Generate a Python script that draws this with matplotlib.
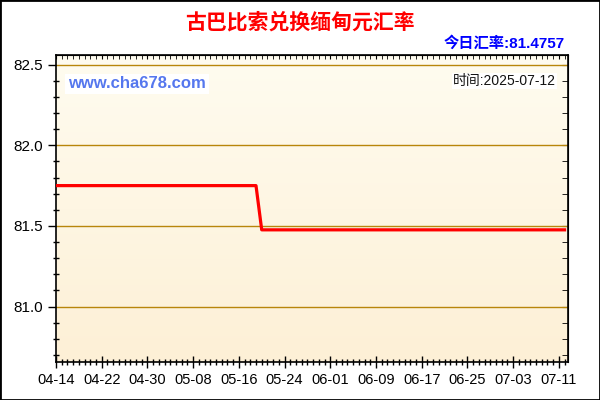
import numpy as np
import pandas as pd
import matplotlib
matplotlib.use("Agg")
import matplotlib.pyplot as plt
import matplotlib.dates as mdates
from matplotlib.colors import LinearSegmentedColormap
from matplotlib.patches import Rectangle

plt.rcParams['font.family'] = ['Liberation Sans', 'Noto Sans CJK SC', 'DejaVu Sans']

# rate data (points where the value changes)
dates = pd.to_datetime(['2025-04-14', '2025-05-19', '2025-05-20', '2025-07-12'])
rates = [81.75, 81.75, 81.4757, 81.4757]

title = "古巴比索兑换缅甸元汇率"
today_label = "今日汇率:81.4757"
time_label = "时间:2025-07-12"
site = "www.cha678.com"
tick_dates = pd.date_range('2025-04-14', '2025-07-11', freq='8D')
y_ticks = [81.0, 81.5, 82.0, 82.5]

fig = plt.figure(figsize=(6, 4), dpi=100)
fig.patch.set_facecolor('white')
ax = fig.add_axes([56 / 600, 1 - 361.7 / 400, 512 / 600, (361.7 - 55) / 400])

x0 = mdates.date2num(pd.Timestamp('2025-04-14'))
x1 = mdates.date2num(pd.Timestamp('2025-07-11')) + 1.6
y0, y1 = 80.658, 82.56

# background gradient
cmap = LinearSegmentedColormap.from_list('bg', ['#fdf0d6', '#fffcf0'])
grad = np.linspace(0, 1, 256).reshape(-1, 1)
ax.imshow(grad, aspect='auto', cmap=cmap, origin='lower',
          extent=[x0, x1, y0, y1], zorder=0)

for v in y_ticks:
    ax.axhline(v, color='#b8860b', lw=1.0, zorder=1)

ax.plot(mdates.date2num(dates), rates, color='#ff0000', lw=2.3, zorder=3)

ax.set_xlim(x0, x1)
ax.set_ylim(y0, y1)

ax.set_xticks(mdates.date2num(tick_dates))
ax.set_xticklabels([d.strftime('%m-%d') for d in tick_dates], fontsize=10.5)
ax.xaxis.set_minor_locator(mdates.DayLocator())
ax.set_yticks(y_ticks)
ax.set_yticklabels([f"{v:.1f}" for v in y_ticks], fontsize=11)
ax.yaxis.set_minor_locator(plt.MultipleLocator(0.1))

ax.tick_params(axis='x', which='major', direction='inout', length=8, width=1, pad=4)
ax.tick_params(axis='x', which='minor', direction='inout', length=5, width=1)
ax.tick_params(axis='y', which='major', direction='out', length=6, width=1, pad=3)
ax.tick_params(axis='y', which='minor', direction='inout', length=5, width=1)

# inward ticks on top and right
sec_x = ax.secondary_xaxis('top')
sec_x.set_xticks(mdates.date2num(tick_dates))
sec_x.xaxis.set_minor_locator(mdates.DayLocator())
sec_x.tick_params(which='both', direction='in', length=3, labeltop=False)
sec_y = ax.secondary_yaxis('right')
sec_y.set_yticks(y_ticks)
sec_y.yaxis.set_minor_locator(plt.MultipleLocator(0.1))
sec_y.tick_params(which='both', direction='in', length=4, labelright=False)

for s in ax.spines.values():
    s.set_linewidth(1.2)

fig.text(0.5, 1 - 22 / 400, title, color='#ff0000', fontsize=15, fontweight='bold',
         ha='center', va='center', family=['Noto Sans CJK SC'])
fig.text(565 / 600, 1 - 43 / 400, today_label, color='#0000ff', fontsize=11,
         fontweight='bold', ha='right', va='center')
fig.text(68 / 600, 1 - 84 / 400, site, fontsize=12, fontweight='bold', color='#5577ee',
         ha='left', va='center', zorder=5,
         bbox=dict(facecolor='white', edgecolor='none', pad=2))
fig.text(556 / 600, 1 - 81 / 400, time_label, fontsize=10, color='#111111',
         ha='right', va='center', zorder=5,
         bbox=dict(facecolor='white', edgecolor='none', pad=1))

fig.patches.append(Rectangle((0, 0), 1, 1, transform=fig.transFigure, fill=False,
                             edgecolor='black', lw=2, zorder=10))

fig.savefig('out.png', dpi=100)
